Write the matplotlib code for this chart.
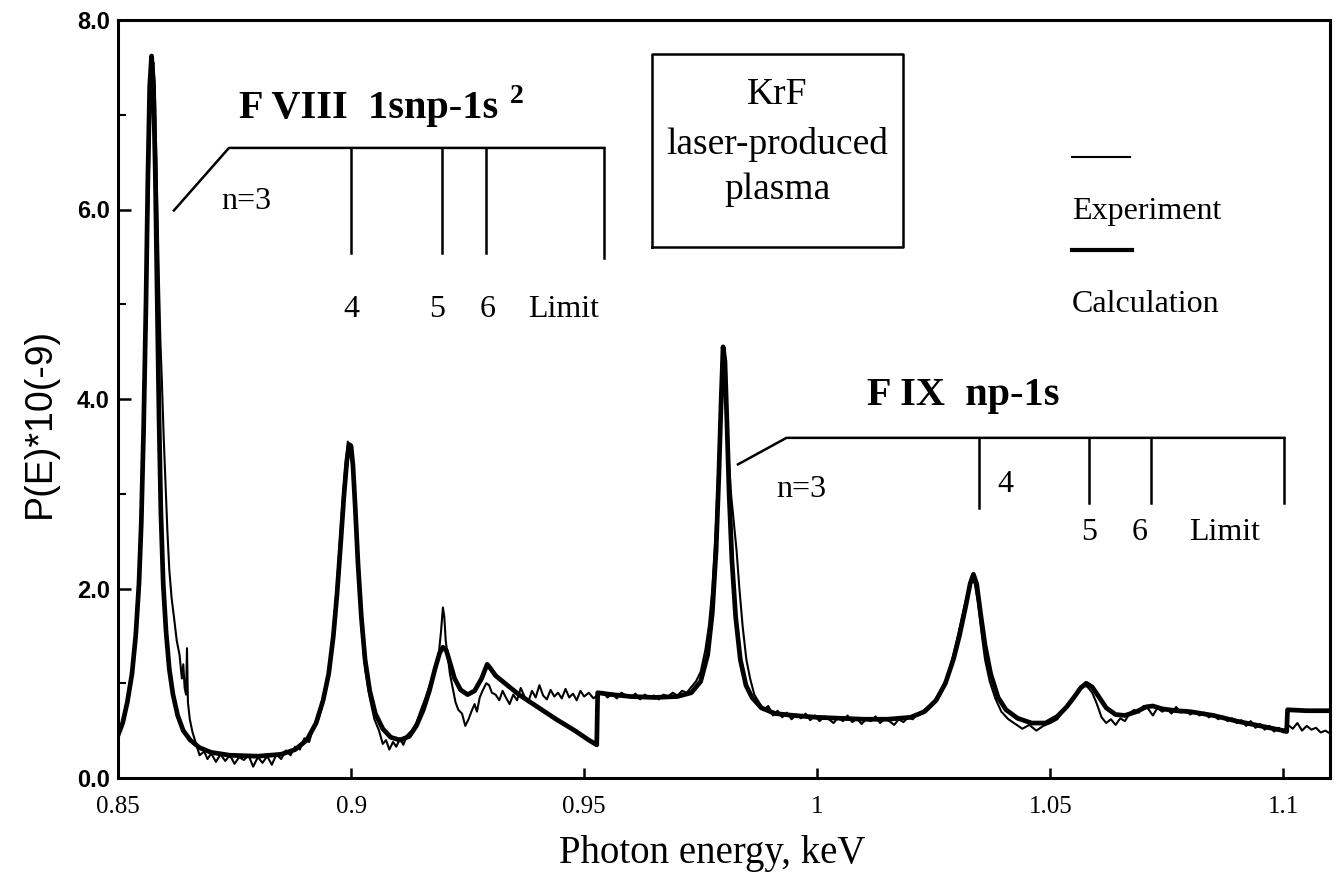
import matplotlib
matplotlib.use("Agg")
import matplotlib.pyplot as plt
from matplotlib.ticker import FixedLocator

# ---------------- data ----------------
calc_x = [0.8500, 0.8510, 0.8520, 0.8530, 0.8538, 0.8545, 0.8550, 0.8555, 0.8560, 0.8564,
          0.8568, 0.8572, 0.8576, 0.8580, 0.8584, 0.8588, 0.8592, 0.8597, 0.8603, 0.8610,
          0.8618, 0.8628, 0.8640, 0.8655, 0.8675, 0.8700, 0.8740, 0.8800, 0.8850, 0.8880,
          0.8905, 0.8925, 0.8940, 0.8952, 0.8962, 0.8970, 0.8978, 0.8985, 0.8991, 0.8996,
          0.9000, 0.9004, 0.9009, 0.9015, 0.9022, 0.9030, 0.9040, 0.9052, 0.9068, 0.9085,
          0.9105, 0.9125, 0.9140, 0.9155, 0.9168, 0.9180, 0.9190, 0.9197, 0.9204, 0.9212,
          0.9222, 0.9235, 0.9250, 0.9265, 0.9280, 0.9292, 0.9300, 0.9310, 0.9330, 0.9360,
          0.9400, 0.9440, 0.9480, 0.9510, 0.9527, 0.9529, 0.9560, 0.9600, 0.9650, 0.9700,
          0.9730, 0.9750, 0.9765, 0.9775, 0.9783, 0.9789, 0.9794, 0.9798, 0.9802, 0.9806,
          0.9811, 0.9817, 0.9825, 0.9835, 0.9847, 0.9860, 0.9880, 0.9910, 0.9950, 1.0000,
          1.0050, 1.0100, 1.0150, 1.0200, 1.0230, 1.0255, 1.0275, 1.0292, 1.0305, 1.0318,
          1.0328, 1.0335, 1.0342, 1.0350, 1.0360, 1.0372, 1.0388, 1.0405, 1.0430, 1.0460,
          1.0490, 1.0515, 1.0535, 1.0552, 1.0565, 1.0577, 1.0590, 1.0605, 1.0620, 1.0640,
          1.0660, 1.0685, 1.0705, 1.0720, 1.0740, 1.0770, 1.0800, 1.0850, 1.0900, 1.0950,
          1.1000, 1.1007, 1.1009, 1.1050, 1.1100]
calc_y = [0.45, 0.58, 0.80, 1.10, 1.50, 2.05, 2.70, 3.70, 5.00, 6.30,
          7.30, 7.62, 7.30, 6.40, 5.10, 3.80, 2.80, 2.05, 1.55, 1.15,
          0.88, 0.66, 0.50, 0.40, 0.32, 0.27, 0.24, 0.23, 0.25, 0.30,
          0.40, 0.58, 0.82, 1.10, 1.50, 1.95, 2.50, 3.00, 3.35, 3.52,
          3.50, 3.30, 2.85, 2.25, 1.70, 1.25, 0.92, 0.68, 0.52, 0.43,
          0.40, 0.44, 0.55, 0.72, 0.92, 1.15, 1.32, 1.38, 1.35, 1.22,
          1.05, 0.93, 0.88, 0.92, 1.05, 1.20, 1.15, 1.08, 1.00, 0.88,
          0.75, 0.62, 0.50, 0.40, 0.35, 0.90, 0.88, 0.86, 0.85, 0.86,
          0.90, 1.02, 1.30, 1.75, 2.40, 3.20, 4.00, 4.55, 4.40, 3.80,
          3.00, 2.30, 1.70, 1.25, 0.98, 0.85, 0.74, 0.68, 0.66, 0.64,
          0.63, 0.62, 0.62, 0.64, 0.70, 0.82, 1.00, 1.25, 1.50, 1.80,
          2.05, 2.15, 2.05, 1.75, 1.40, 1.10, 0.85, 0.72, 0.63, 0.58,
          0.58, 0.65, 0.75, 0.86, 0.95, 1.00, 0.96, 0.85, 0.74, 0.67,
          0.66, 0.70, 0.75, 0.76, 0.73, 0.71, 0.70, 0.66, 0.60, 0.55,
          0.50, 0.49, 0.72, 0.71, 0.71]

exp_x = [0.8500, 0.8510, 0.8520, 0.8530, 0.8538, 0.8545, 0.8550, 0.8556, 0.8561, 0.8565,
         0.8569, 0.8573, 0.8576, 0.8579, 0.8582, 0.8585, 0.8588, 0.8591, 0.8594, 0.8598,
         0.8602, 0.8606, 0.8610, 0.8615, 0.8620, 0.8626, 0.8632, 0.8637, 0.8640, 0.8643,
         0.8646, 0.8648, 0.8650, 0.8654, 0.8660, 0.8668, 0.8675, 0.8685, 0.8692, 0.8700,
         0.8710, 0.8720, 0.8730, 0.8740, 0.8750, 0.8760, 0.8770, 0.8780, 0.8790, 0.8800,
         0.8810, 0.8820, 0.8830, 0.8840, 0.8850, 0.8860, 0.8870, 0.8880, 0.8890, 0.8900,
         0.8910, 0.8920, 0.8930, 0.8940, 0.8950, 0.8958, 0.8965, 0.8972, 0.8980, 0.8987,
         0.8993, 0.8997, 0.9001, 0.9005, 0.9010, 0.9016, 0.9023, 0.9030, 0.9040, 0.9050,
         0.9060, 0.9068, 0.9075, 0.9082, 0.9090, 0.9097, 0.9105, 0.9112, 0.9120, 0.9130,
         0.9140, 0.9150, 0.9160, 0.9170, 0.9180, 0.9188, 0.9193, 0.9197, 0.9200, 0.9203,
         0.9207, 0.9212, 0.9218, 0.9224, 0.9230, 0.9238, 0.9245, 0.9252, 0.9258, 0.9265,
         0.9270, 0.9276, 0.9282, 0.9290, 0.9296, 0.9302, 0.9310, 0.9318, 0.9325, 0.9332,
         0.9340, 0.9348, 0.9356, 0.9364, 0.9372, 0.9380, 0.9388, 0.9396, 0.9404, 0.9412,
         0.9420, 0.9428, 0.9436, 0.9444, 0.9452, 0.9460, 0.9468, 0.9476, 0.9484, 0.9492,
         0.9500, 0.9510, 0.9520, 0.9530, 0.9540, 0.9550, 0.9560, 0.9570, 0.9580, 0.9590,
         0.9600, 0.9610, 0.9620, 0.9630, 0.9640, 0.9650, 0.9660, 0.9670, 0.9680, 0.9690,
         0.9700, 0.9710, 0.9720, 0.9730, 0.9740, 0.9750, 0.9760, 0.9768, 0.9775, 0.9782,
         0.9788, 0.9793, 0.9797, 0.9800, 0.9803, 0.9806, 0.9810, 0.9815, 0.9821, 0.9827,
         0.9833, 0.9840, 0.9848, 0.9856, 0.9865, 0.9875, 0.9885, 0.9895, 0.9905, 0.9915,
         0.9925, 0.9935, 0.9945, 0.9955, 0.9965, 0.9975, 0.9985, 0.9995, 1.0005, 1.0015,
         1.0025, 1.0035, 1.0045, 1.0055, 1.0065, 1.0075, 1.0085, 1.0095, 1.0105, 1.0115,
         1.0125, 1.0135, 1.0145, 1.0155, 1.0165, 1.0175, 1.0185, 1.0195, 1.0205, 1.0212,
         1.0220, 1.0235, 1.0250, 1.0265, 1.0280, 1.0292, 1.0304, 1.0315, 1.0325, 1.0332,
         1.0338, 1.0345, 1.0352, 1.0360, 1.0370, 1.0382, 1.0395, 1.0410, 1.0425, 1.0440,
         1.0455, 1.0470, 1.0485, 1.0500, 1.0515, 1.0530, 1.0545, 1.0558, 1.0570, 1.0580,
         1.0590, 1.0600, 1.0610, 1.0620, 1.0630, 1.0640, 1.0650, 1.0660, 1.0670, 1.0680,
         1.0690, 1.0700, 1.0710, 1.0720, 1.0730, 1.0740, 1.0750, 1.0760, 1.0770, 1.0780,
         1.0790, 1.0800, 1.0810, 1.0820, 1.0830, 1.0840, 1.0850, 1.0860, 1.0870, 1.0880,
         1.0890, 1.0900, 1.0910, 1.0920, 1.0930, 1.0940, 1.0950, 1.0960, 1.0970, 1.0980,
         1.0990, 1.1000, 1.1010, 1.1020, 1.1030, 1.1040, 1.1050, 1.1060, 1.1070, 1.1080,
         1.1090, 1.1100]
exp_y = [0.47, 0.60, 0.82, 1.12, 1.55, 2.05, 2.60, 3.60, 5.00, 6.10,
         7.00, 7.45, 7.55, 7.30, 6.60, 5.90, 5.20, 4.60, 4.20, 3.60,
         3.10, 2.60, 2.20, 1.90, 1.70, 1.45, 1.30, 1.05, 1.20, 0.95,
         0.88, 1.37, 0.80, 0.62, 0.48, 0.35, 0.24, 0.28, 0.20, 0.26,
         0.17, 0.25, 0.18, 0.24, 0.15, 0.22, 0.19, 0.24, 0.12, 0.22,
         0.16, 0.23, 0.14, 0.25, 0.20, 0.29, 0.24, 0.33, 0.30, 0.42,
         0.38, 0.55, 0.62, 0.80, 1.05, 1.35, 1.75, 2.20, 2.80, 3.25,
         3.55, 3.45, 3.52, 3.20, 2.70, 2.10, 1.55, 1.15, 0.85, 0.62,
         0.50, 0.36, 0.40, 0.30, 0.38, 0.33, 0.42, 0.35, 0.45, 0.50,
         0.58, 0.72, 0.85, 1.00, 1.15, 1.30, 1.55, 1.80, 1.70, 1.45,
         1.30, 1.10, 0.95, 0.80, 0.72, 0.68, 0.55, 0.62, 0.70, 0.78,
         0.70, 0.85, 0.92, 1.00, 0.98, 0.90, 0.88, 0.82, 0.92, 0.85,
         0.78, 0.88, 0.82, 0.95, 0.86, 0.80, 0.92, 0.85, 0.98, 0.87,
         0.83, 0.93, 0.86, 0.90, 0.84, 0.94, 0.85, 0.89, 0.82, 0.92,
         0.86, 0.90, 0.84, 0.88, 0.91, 0.85, 0.89, 0.84, 0.90, 0.87,
         0.85, 0.89, 0.83, 0.88, 0.85, 0.87, 0.83, 0.88, 0.86, 0.90,
         0.87, 0.92, 0.90, 0.96, 1.02, 1.12, 1.35, 1.62, 2.00, 2.60,
         3.30, 4.00, 4.35, 4.20, 4.05, 3.70, 3.40, 3.00, 2.70, 2.40,
         2.00, 1.60, 1.25, 1.05, 0.88, 0.80, 0.72, 0.76, 0.66, 0.71,
         0.64, 0.69, 0.62, 0.67, 0.63, 0.68, 0.61, 0.66, 0.60, 0.65,
         0.62, 0.58, 0.64, 0.60, 0.66, 0.59, 0.63, 0.57, 0.62, 0.60,
         0.65, 0.58, 0.63, 0.60, 0.56, 0.62, 0.59, 0.64, 0.62, 0.66,
         0.68, 0.74, 0.80, 0.92, 1.08, 1.30, 1.55, 1.80, 2.00, 2.10,
         2.05, 1.85, 1.55, 1.25, 1.02, 0.84, 0.70, 0.62, 0.57, 0.52,
         0.56, 0.50, 0.55, 0.58, 0.62, 0.72, 0.80, 0.90, 0.98, 0.96,
         0.90, 0.78, 0.64, 0.58, 0.62, 0.56, 0.63, 0.60, 0.68, 0.72,
         0.69, 0.76, 0.73, 0.66, 0.74, 0.70, 0.73, 0.68, 0.75, 0.69,
         0.72, 0.67, 0.70, 0.66, 0.69, 0.64, 0.67, 0.62, 0.65, 0.60,
         0.63, 0.58, 0.61, 0.55, 0.60, 0.53, 0.57, 0.51, 0.55, 0.49,
         0.53, 0.48, 0.56, 0.52, 0.58, 0.50, 0.55, 0.51, 0.53, 0.48,
         0.50, 0.47]

x_ticks = [0.85, 0.90, 0.95, 1.00, 1.05, 1.10]
x_tick_labels = ["0.85", "0.9", "0.95", "1", "1.05", "1.1"]
y_ticks = [0.0, 2.0, 4.0, 6.0, 8.0]
y_tick_labels = ["0.0", "2.0", "4.0", "6.0", "8.0"]

# series-limit annotations
f8_title = "F VIII  1snp-1s"
f8_lines = [0.9000, 0.9195, 0.9290, 0.9543]
f8_labels = ["4", "5", "6", "Limit"]
f8_label_x = [0.9000, 0.9185, 0.9292, 0.9457]
f9_title = "F IX  np-1s"
f9_lines = [1.0346, 1.0584, 1.0717, 1.1002]
f9_labels = ["4", "5", "6", "Limit"]
f9_label_x = [1.0403, 1.0584, 1.0691, 1.0873]

SERIF = ["Liberation Serif", "DejaVu Serif"]
SANS = ["Liberation Sans", "DejaVu Sans"]

# ---------------- figure ----------------
fig = plt.figure(figsize=(13.39, 8.90), dpi=100)
ax = fig.add_axes([118 / 1339, 112 / 890, 1212 / 1339, 758 / 890])

ax.plot(calc_x, calc_y, color="black", lw=3.4, solid_joinstyle="round")
ax.plot(exp_x, exp_y, color="black", lw=1.5)

ax.set_xlim(0.85, 1.11)
ax.set_ylim(0.0, 8.0)

ax.xaxis.set_major_locator(FixedLocator(x_ticks))
ax.set_xticklabels(x_tick_labels, fontfamily=SERIF, fontsize=18)
ax.yaxis.set_major_locator(FixedLocator(y_ticks))
ax.yaxis.set_minor_locator(FixedLocator([1, 3, 5, 7]))
ax.set_yticklabels(y_tick_labels, fontfamily=SANS, fontsize=17, fontweight="bold")
ax.tick_params(axis="x", direction="in", length=7, width=1.8, pad=13)
ax.tick_params(axis="y", which="major", direction="in", length=9, width=1.8, pad=6)
ax.tick_params(axis="y", which="minor", direction="in", length=6, width=1.5)
for s in ax.spines.values():
    s.set_linewidth(2.2)

fig.text(712 / 1339, 1 - 853 / 890, "Photon energy, keV", ha="center", va="center",
         fontfamily=SERIF, fontsize=28)
fig.text(40 / 1339, 1 - 423 / 890, "P(E)*10(-9)", ha="center", va="center",
         rotation=90, fontfamily=SANS, fontsize=27)

# --- F VIII bracket ---
bk = dict(color="black", lw=1.8)
ax.plot([0.8620, 0.8738, f8_lines[-1]], [5.99, 6.65, 6.65], **bk)
for i, xv in enumerate(f8_lines):
    ax.plot([xv, xv], [6.65, 5.54 if i < 3 else 5.49], **bk)
for xv, lab in zip(f8_label_x, f8_labels):
    ax.text(xv, 4.94, lab, ha="center", va="center", fontfamily=SERIF, fontsize=23)
ax.text(0.8775, 6.08, "n=3", ha="center", va="center", fontfamily=SERIF, fontsize=23)
t8 = ax.text(0.876, 6.97, f8_title, ha="left", va="baseline", fontfamily=SERIF,
             fontsize=29, fontweight="bold")
ax.annotate("2", xy=(1.0, 1.0), xycoords=t8, xytext=(8, 4), textcoords="offset points",
            ha="left", va="top", fontfamily=SERIF, fontsize=20, fontweight="bold")

# --- F IX bracket ---
ax.plot([0.9830, 0.9934, f9_lines[-1]], [3.31, 3.59, 3.59], **bk)
for i, xv in enumerate(f9_lines):
    ax.plot([xv, xv], [3.59, 2.85 if i == 0 else 2.90], **bk)
ax.text(f9_label_x[0], 3.10, f9_labels[0], ha="center", va="center", fontfamily=SERIF, fontsize=23)
for xv, lab in zip(f9_label_x[1:], f9_labels[1:]):
    ax.text(xv, 2.59, lab, ha="center", va="center", fontfamily=SERIF, fontsize=23)
ax.text(0.9966, 3.04, "n=3", ha="center", va="center", fontfamily=SERIF, fontsize=23)
ax.text(1.0107, 3.94, f9_title, ha="left", va="baseline", fontfamily=SERIF,
        fontsize=29, fontweight="bold")

# --- boxed title ---
bx0, bx1 = (652 - 118) / 1212, (903 - 118) / 1212
by0, by1 = (778 - 247) / 758, (778 - 54) / 758
ax.plot([bx0, bx1, bx1, bx0, bx0], [by0, by0, by1, by1, by0], color="black", lw=1.8,
        transform=ax.transAxes)
for yy, s in zip([95, 145, 190], ["KrF", "laser-produced", "plasma"]):
    ax.text((bx0 + bx1) / 2, (778 - yy) / 758, s, ha="center", va="center",
            transform=ax.transAxes, fontfamily=SERIF, fontsize=27)

# --- legend ---
lx0, lx1 = (1072 - 118) / 1212, (1130 - 118) / 1212
ax.plot([lx0, lx1], [(778 - 157) / 758] * 2, color="black", lw=1.5, transform=ax.transAxes)
ax.text(lx0, (778 - 212) / 758, "Experiment", ha="left", va="center",
        transform=ax.transAxes, fontfamily=SERIF, fontsize=23)
ax.plot([lx0, lx1 + 2 / 1212], [(778 - 250) / 758] * 2, color="black", lw=3.0,
        transform=ax.transAxes)
ax.text(lx0, (778 - 305) / 758, "Calculation", ha="left", va="center",
        transform=ax.transAxes, fontfamily=SERIF, fontsize=23)

fig.savefig("out.png", dpi=100)
